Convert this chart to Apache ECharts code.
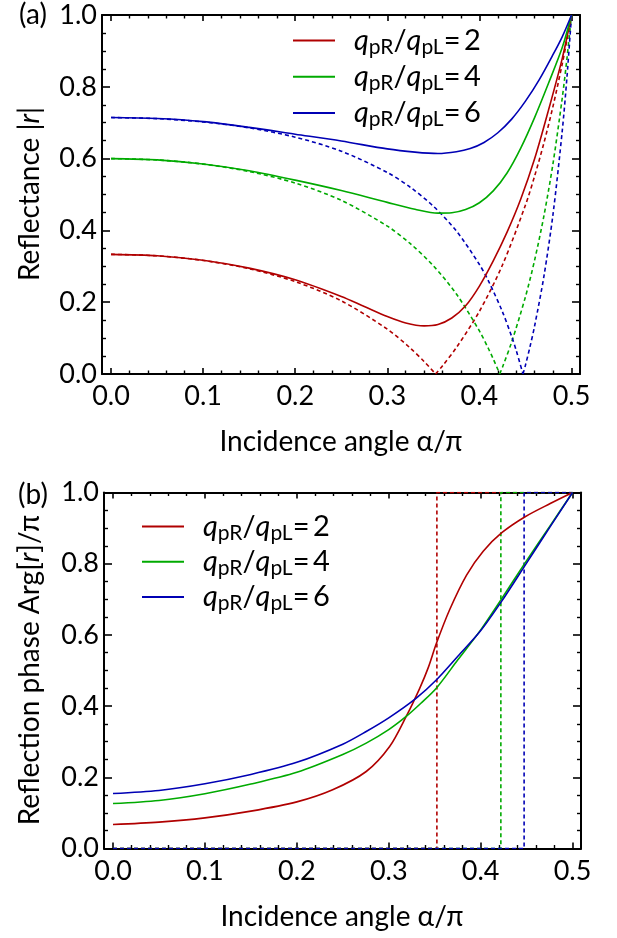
<!DOCTYPE html>
<html><head><meta charset="utf-8">
<script src="https://cdn.jsdelivr.net/npm/echarts@6/dist/echarts.min.js"></script>
<style>html,body{margin:0;padding:0;background:#fff}#c{width:617px;height:938px}</style>
</head><body><div id="c"></div>
<script>
// ---------- tick values ----------
const majorX = [0, 0.1, 0.2, 0.3, 0.4, 0.5];
const minorX = [0.02,0.04,0.06,0.08,0.12,0.14,0.16,0.18,0.22,0.24,0.26,0.28,0.32,0.34,0.36,0.38,0.42,0.44,0.46,0.48];
const majorY = [0, 0.2, 0.4, 0.6, 0.8, 1.0];
const minorY = [0.05,0.1,0.15,0.25,0.3,0.35,0.45,0.5,0.55,0.65,0.7,0.75,0.85,0.9,0.95];

// ---------- panel (a): reflectance |r| ----------
const aRedX  = [0,0.05,0.1,0.15,0.2,0.25,0.275,0.3,0.32,0.34,0.355,0.37,0.385,0.4,0.415,0.43,0.445,0.46,0.475,0.49,0.5];
const aRedY  = [0.3333,0.3295,0.317,0.295,0.2625,0.216,0.188,0.16,0.142,0.134,0.138,0.156,0.19,0.245,0.315,0.395,0.488,0.6,0.735,0.88,1.0];
const aGreenX = [0,0.05,0.1,0.15,0.2,0.25,0.3,0.33,0.355,0.37,0.385,0.4,0.415,0.43,0.445,0.46,0.475,0.49,0.5];
const aGreenY = [0.6,0.5965,0.585,0.566,0.54,0.511,0.478,0.459,0.448,0.449,0.458,0.477,0.51,0.56,0.63,0.715,0.81,0.91,1.0];
const aBlueX = [0,0.05,0.1,0.15,0.2,0.25,0.3,0.33,0.355,0.375,0.39,0.405,0.42,0.435,0.45,0.465,0.48,0.49,0.5];
const aBlueY = [0.7143,0.7115,0.703,0.687,0.668,0.649,0.627,0.618,0.614,0.619,0.628,0.645,0.672,0.71,0.76,0.82,0.89,0.94,1.0];

const aRedDashFallX = [0,0.05,0.1,0.15,0.2,0.25,0.3,0.325,0.34,0.3524];
const aRedDashFallY = [0.3333,0.3292,0.3163,0.2932,0.2573,0.2038,0.1249,0.072,0.0347,0];
const aRedDashRiseX = [0.3524,0.36,0.375,0.4,0.425,0.45,0.46,0.47,0.48,0.49,0.495,0.5];
const aRedDashRiseY = [0,0.0231,0.0736,0.1747,0.3035,0.4708,0.552,0.6434,0.7469,0.8648,0.93,1];
const aGreenDashFallX = [0,0.05,0.1,0.15,0.2,0.25,0.3,0.325,0.35,0.375,0.4,0.41,0.415,0.42,0.422];
const aGreenDashFallY = [0.6,0.5963,0.5847,0.564,0.5318,0.4837,0.4119,0.3629,0.3014,0.2228,0.1199,0.0696,0.042,0.0125,0];
const aGreenDashRiseX = [0.422,0.425,0.435,0.45,0.46,0.47,0.48,0.49,0.495,0.5];
const aGreenDashRiseY = [0,0.019,0.089,0.2153,0.318,0.4402,0.5881,0.7703,0.8781,1];
const aBlueDashFallX = [0,0.05,0.1,0.15,0.2,0.25,0.3,0.325,0.35,0.375,0.4,0.41,0.425,0.435,0.44,0.4473];
const aBlueDashFallY = [0.7143,0.7113,0.7021,0.6856,0.6597,0.6207,0.5613,0.5201,0.4673,0.3983,0.305,0.2581,0.1734,0.1045,0.0653,0];
const aBlueDashRiseX = [0.4473,0.45,0.455,0.46,0.47,0.48,0.49,0.495,0.5];
const aBlueDashRiseY = [0,0.0248,0.0769,0.1348,0.2718,0.4471,0.6791,0.8255,1];

// ---------- panel (b): reflection phase Arg[r]/pi ----------
const bRedX = [0,0.05,0.1,0.15,0.2,0.239,0.2755,0.301,0.319,0.3337,0.343,0.352,0.3665,0.3847,0.4028,0.423,0.4484,0.4757,0.5];
const bRedY = [0.0674,0.074,0.086,0.105,0.131,0.165,0.2163,0.2865,0.371,0.45,0.508,0.577,0.672,0.768,0.835,0.887,0.932,0.969,1.0];
const bGreenX = [0,0.05,0.1,0.15,0.2,0.25,0.2755,0.3,0.319,0.335,0.352,0.3752,0.3995,0.4222,0.448,0.4757,0.5];
const bGreenY = [0.1264,0.135,0.154,0.181,0.214,0.264,0.296,0.334,0.371,0.408,0.451,0.53,0.612,0.699,0.801,0.907,1.0];
const bBlueX = [0,0.05,0.1,0.15,0.2,0.25,0.2755,0.3,0.33,0.352,0.3752,0.3995,0.4222,0.448,0.4757,0.5];
const bBlueY = [0.1545,0.163,0.182,0.208,0.242,0.293,0.3287,0.367,0.4225,0.474,0.54,0.61,0.692,0.794,0.904,1.0];

const bRedDashX = [0,0.3524,0.3524,0.5];
const bRedDashY = [0,0,1,1];
const bGreenDashX = [0,0.422,0.422,0.5];
const bGreenDashY = [0,0,1,1];
const bBlueDashX = [0,0.4473,0.4473,0.5];
const bBlueDashY = [0,0,1,1];

// ---------- styling ----------
const FONT = 'Lato';
const RED = '#b00000', GREEN = '#00aa00', BLUE = '#0000b4';
const pts = (xs, ys) => xs.map((x, i) => [x, ys[i]]);

const rectA = {left: 102, top: 15, width: 478, height: 359};
const rectB = {left: 104, top: 492.5, width: 477, height: 356};
// main grid + overlapping grid that only carries the minor ticks
const grids = [rectA, rectA, rectB, rectB].map(r => Object.assign({}, r));
const XMIN = -0.0098, XMAX = 0.5092;
const BLACK = '#000';

function xAxesFor(g, minor) {
  const base = {type: 'value', gridIndex: g, min: XMIN, max: XMAX, splitLine: {show: false}};
  const tick = minor
    ? {show: true, inside: true, length: 3.5, customValues: minorX, lineStyle: {color: BLACK, width: 1.4}}
    : {show: true, inside: true, length: 6, customValues: majorX, lineStyle: {color: BLACK, width: 1.6}};
  const line = {show: !minor, onZero: false, lineStyle: {color: BLACK, width: 2}};
  return [
    Object.assign({}, base, {position: 'bottom', axisLine: line, axisTick: tick,
      axisLabel: minor ? {show: false} : {show: true, customValues: majorX, formatter: v => v.toFixed(1),
        margin: 9, fontFamily: FONT, fontSize: 27, color: BLACK}}),
    Object.assign({}, base, {position: 'top', axisLine: line, axisTick: tick, axisLabel: {show: false}})
  ];
}
function yAxesFor(g, minor) {
  const base = {type: 'value', gridIndex: g, min: 0, max: 1, splitLine: {show: false}};
  const tick = minor
    ? {show: true, inside: true, length: 4, customValues: minorY, lineStyle: {color: BLACK, width: 1.4}}
    : {show: true, inside: true, length: 8, customValues: majorY, lineStyle: {color: BLACK, width: 1.6}};
  const line = {show: !minor, onZero: false, lineStyle: {color: BLACK, width: 2}};
  return [
    Object.assign({}, base, {position: 'left', axisLine: line, axisTick: tick,
      axisLabel: minor ? {show: false} : {show: true, customValues: majorY, formatter: v => v.toFixed(1),
        margin: 5, fontFamily: FONT, fontSize: 27, color: BLACK}}),
    Object.assign({}, base, {position: 'right', axisLine: line, axisTick: tick, axisLabel: {show: false}})
  ];
}

// axis index of the main (bottom / left) axis of each panel
const PANEL_AXIS = [0, 4];
function ser(name, xs, ys, color, dashed, panel, smooth) {
  return {
    type: 'line', name: name, xAxisIndex: PANEL_AXIS[panel], yAxisIndex: PANEL_AXIS[panel],
    data: pts(xs, ys), showSymbol: false, symbol: 'none',
    smooth: smooth === undefined ? 0.3 : smooth,
    color: color, itemStyle: {color: color},
    lineStyle: {color: color, width: 1.6, type: dashed ? [4, 3] : 'solid'},
    z: dashed ? 3 : 4, silent: true, animation: false
  };
}

const series = [
  ser('da2f', aRedDashFallX, aRedDashFallY, RED, true, 0),
  ser('da2r', aRedDashRiseX, aRedDashRiseY, RED, true, 0),
  ser('da4f', aGreenDashFallX, aGreenDashFallY, GREEN, true, 0),
  ser('da4r', aGreenDashRiseX, aGreenDashRiseY, GREEN, true, 0),
  ser('da6f', aBlueDashFallX, aBlueDashFallY, BLUE, true, 0),
  ser('da6r', aBlueDashRiseX, aBlueDashRiseY, BLUE, true, 0),
  ser('a2', aRedX, aRedY, RED, false, 0),
  ser('a4', aGreenX, aGreenY, GREEN, false, 0),
  ser('a6', aBlueX, aBlueY, BLUE, false, 0),
  ser('db2', bRedDashX, bRedDashY, RED, true, 1, false),
  ser('db4', bGreenDashX, bGreenDashY, GREEN, true, 1, false),
  ser('db6', bBlueDashX, bBlueDashY, BLUE, true, 1, false),
  ser('b2', bRedX, bRedY, RED, false, 1),
  ser('b4', bGreenX, bGreenY, GREEN, false, 1),
  ser('b6', bBlueX, bBlueY, BLUE, false, 1)
];

const legRich = {
  sp: {width: 14, fontSize: 28, lineHeight: 34},
  i: {fontFamily: FONT, fontStyle: 'italic', fontSize: 29, lineHeight: 34, color: BLACK},
  s: {fontFamily: FONT, fontSize: 21, lineHeight: 18, verticalAlign: 'bottom', color: BLACK},
  n: {fontFamily: FONT, fontSize: 29, lineHeight: 34, color: BLACK}
};
function legend(names, left, top, gap) {
  return {
    data: names, left: left, top: top, orient: 'vertical', icon: 'rect',
    itemWidth: 42, itemHeight: 2, itemGap: gap, selectedMode: false, padding: 0,
    formatter: n => '{sp| }{i|q}{s|pR}{n|/}{i|q}{s|pL}{n|=\u2009' + n.slice(1) + '}',
    textStyle: {rich: legRich}
  };
}

const titleRich = {
  n: {fontFamily: FONT, fontSize: 28, color: BLACK},
  i: {fontFamily: FONT, fontSize: 28, fontStyle: 'italic', color: BLACK}
};
function txt(x, y, text, rot) {
  return {type: 'text', x: x, y: y, rotation: rot || 0, silent: true,
    style: {text: text, rich: titleRich, font: '28px ' + FONT, fill: BLACK, align: 'center', verticalAlign: 'middle'}};
}

const option = {
  animation: false,
  backgroundColor: '#fff',
  grid: grids,
  xAxis: [].concat(xAxesFor(0, false), xAxesFor(1, true), xAxesFor(2, false), xAxesFor(3, true)),
  yAxis: [].concat(yAxesFor(0, false), yAxesFor(1, true), yAxesFor(2, false), yAxesFor(3, true)),
  legend: [legend(['a2', 'a4', 'a6'], 293, 26, 4.7), legend(['b2', 'b4', 'b6'], 142, 512, 3.8)],
  series: series,
  graphic: [
    txt(33, 15, '{n|(a)}'),
    txt(33, 495, '{n|(b)}'),
    txt(341, 442, '{n|Incidence angle α/π}'),
    txt(342, 917, '{n|Incidence angle α/π}'),
    txt(30, 194, '{n|Reflectance |}{i|r}{n||}', Math.PI / 2),
    txt(30, 670, '{n|Reflection phase Arg[}{i|r}{n|]/π}', Math.PI / 2)
  ]
};
const chart = echarts.init(document.getElementById('c'), null, {renderer: 'canvas'});
chart.setOption(option);
</script>
</body></html>
